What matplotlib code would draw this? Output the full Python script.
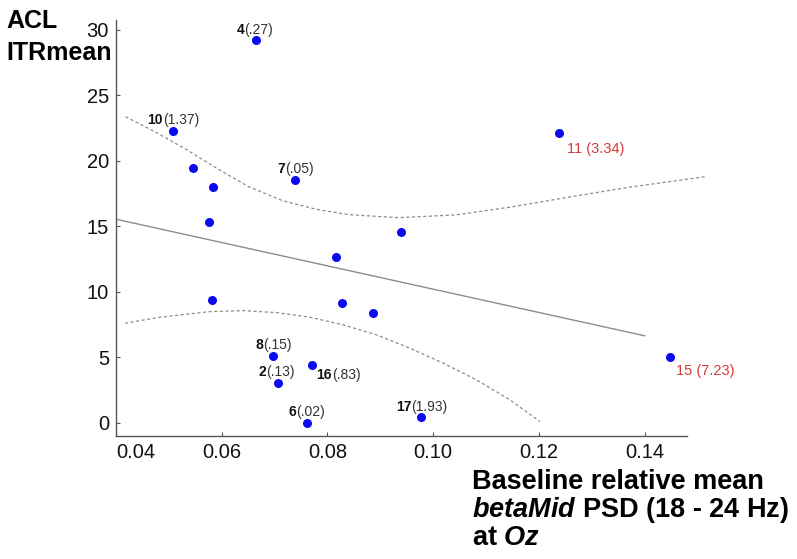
import matplotlib
matplotlib.use('Agg')
import matplotlib.pyplot as plt

plt.rcParams['font.family'] = ['Liberation Sans', 'DejaVu Sans']
plt.rcParams['mathtext.fontset'] = 'custom'
plt.rcParams['mathtext.rm'] = 'Liberation Sans:bold'
plt.rcParams['mathtext.it'] = 'Liberation Sans:italic:bold'
plt.rcParams['mathtext.bf'] = 'Liberation Sans:bold'

# subjects with labels first, then the unlabelled ones
beta_mid = [0.0664, 0.0507, 0.0739, 0.0697, 0.0706, 0.0771, 0.0762, 0.0977, 0.1238, 0.1447,
            0.0545, 0.0583, 0.0575, 0.0939, 0.0816, 0.0581, 0.0828, 0.0886]
itr_mean = [29.2, 22.3, 18.55, 5.1, 3.05, 4.4, 0.0, 0.45, 22.1, 5.0,
            19.45, 18.0, 15.3, 14.6, 12.7, 9.4, 9.15, 8.4]

subject_ids = ['4', '10', '7', '8', '2', '16', '6', '17', '11', '15']
cooks_vals = ['.27', '1.37', '.05', '.15', '.13', '.83', '.02', '1.93', '3.34', '7.23']
outliers = ['11', '15']

# regression fit and confidence band
fit_x = [0.04, 0.14]
fit_y = [15.55, 6.65]
upper_x = [0.0418, 0.0475, 0.0534, 0.0590, 0.0650, 0.0716, 0.0780, 0.0840, 0.0934,
           0.1043, 0.1152, 0.1261, 0.137, 0.1515]
upper_y = [23.38, 22.2, 20.85, 19.45, 18.05, 16.95, 16.3, 15.9, 15.67,
           15.88, 16.51, 17.27, 17.99, 18.8]
lower_x = [0.0417, 0.0483, 0.0578, 0.0641, 0.0704, 0.0767, 0.083, 0.0893, 0.0956, 0.1019,
           0.1082, 0.1145, 0.1202]
lower_y = [7.61, 8.07, 8.50, 8.57, 8.42, 8.07, 7.48, 6.72, 5.70, 4.56, 3.28, 1.76, 0.1]

xticks = [0.04, 0.06, 0.08, 0.10, 0.12, 0.14]
yticks = [0, 5, 10, 15, 20, 25, 30]

# label offsets in pixels (left edge, vertical centre) relative to each point
label_offsets = [(-19, 10), (-25, 11), (-18, 11), (-18, 11), (-19, 11),
                 (4, -10), (-19, 11), (-25, 10), (8, -16), (6, -14)]

fig = plt.figure(figsize=(7.97, 5.59), dpi=100)
ax = fig.add_axes([116 / 797, 1 - 436 / 559, (687 - 116) / 797, (436 - 20) / 559])

ax.plot(fit_x, fit_y, color='#8c8c8c', lw=1.0)
ax.plot(upper_x, upper_y, color='#8c8c8c', lw=0.9, ls=(0, (2.5, 2)), clip_on=False)
ax.plot(lower_x, lower_y, color='#8c8c8c', lw=0.9, ls=(0, (2.5, 2)))
ax.plot(beta_mid, itr_mean, 'o', color='#0a0aee', ms=6.5, mec='none', clip_on=False, zorder=3)

for i, sid in enumerate(subject_ids):
    dx, dy = label_offsets[i]
    if sid in outliers:
        ax.annotate(f'{sid} ({cooks_vals[i]})', xy=(beta_mid[i], itr_mean[i]),
                    xytext=(dx, dy), textcoords='offset pixels', ha='left', va='center',
                    color='#d43a3a', fontsize=10.5)
    else:
        t1 = ax.annotate(sid, xy=(beta_mid[i], itr_mean[i]), xytext=(dx, dy),
                         textcoords='offset pixels', ha='left', va='center',
                         fontweight='bold', color='#111111', fontsize=10)
        ax.annotate(f'({cooks_vals[i]})', xy=(1, 0), xycoords=t1, ha='left', va='bottom',
                    color='#333333', fontsize=10)

ax.set_xlim(0.04, 0.148)
ax.set_ylim(-1.0, 30.76)
ax.set_xticks(xticks)
ax.set_xticklabels(['0.04', '0.06', '0.08', '0.10', '0.12', '0.14'])
ax.set_yticks(yticks)
ax.xaxis.get_majorticklabels()[0].set_horizontalalignment('left')
ax.tick_params(direction='in', length=3, width=0.8, color='#555555',
               labelsize=14.5, labelcolor='#111111', pad=5)
for side in ['top', 'right']:
    ax.spines[side].set_visible(False)
for side in ['left', 'bottom']:
    ax.spines[side].set_color('#555555')
    ax.spines[side].set_linewidth(1.0)

fig.text(6 / 797, 1 - 9 / 559, 'ACL\nITRmean', ha='left', va='top',
         fontsize=18, fontweight='bold', linespacing=1.4)
fig.text(472 / 797, 1 - 469 / 559,
         'Baseline relative mean\n$betaMid$ PSD (18 - 24 Hz)\nat $Oz$',
         ha='left', va='top', fontsize=19.5, fontweight='bold', linespacing=1.0)

fig.savefig('out.png', dpi=100)
